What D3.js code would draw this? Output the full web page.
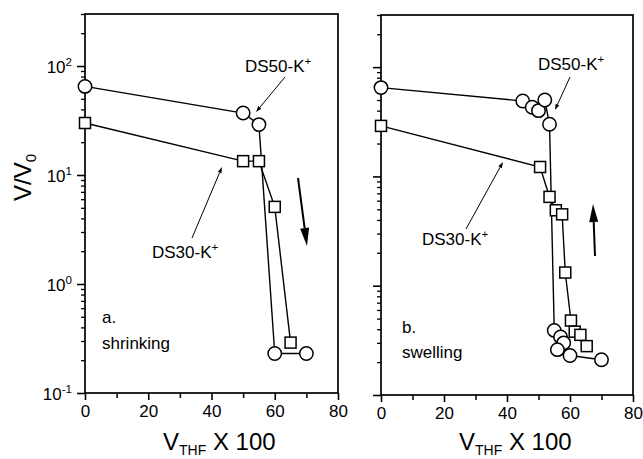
<!DOCTYPE html>
<html>
<head>
<meta charset="utf-8">
<script src="https://cdn.jsdelivr.net/npm/d3@7"></script>
<style>
  body { margin: 0; background: #fff; }
  text { font-family: "Liberation Sans", Arial, sans-serif; fill: #000; }
</style>
</head>
<body>
<svg id="chart" width="643" height="459"></svg>
<script>
// ---- data ----
const xTicks = [0, 20, 40, 60, 80];
const xMinorTicks = [10, 30, 50, 70];
const yDecades = [-1, 0, 1, 2];

// panel a: shrinking
const shrinkDS50X = [0, 50, 55, 60, 70];
const shrinkDS50Y = [65, 37, 29, 0.23, 0.23];
const shrinkDS30X = [0, 50, 55, 60, 65];
const shrinkDS30Y = [30, 13.4, 13.4, 5.1, 0.29];

// panel b: swelling
const swellDS50X = [0, 45, 48, 50, 52, 53.5, 55, 57, 58, 56, 60, 70];
const swellDS50Y = [65, 49, 43, 40, 50, 30, 0.39, 0.34, 0.30, 0.26, 0.23, 0.21];
const swellDS30X = [0, 50.5, 53.5, 55.5, 57.5, 58.5, 60.3, 61.5, 63.3, 65.3];
const swellDS30Y = [29, 12.2, 6.5, 4.9, 4.5, 1.32, 0.48, 0.38, 0.355, 0.28];

const X_DOMAIN = [0, 80];
const Y_DOMAIN = [0.1, 300];

const svg = d3.select("#chart");

function zip(xs, ys) { return xs.map((x, i) => ({ x, y: ys[i] })); }

// straight line with a filled head at (x2,y2)
function arrow(g, x1, y1, x2, y2, headLen, headW, sw) {
  const a = Math.atan2(y2 - y1, x2 - x1);
  const bx = x2 - headLen * Math.cos(a), by = y2 - headLen * Math.sin(a);
  g.append("line")
    .attr("x1", x1).attr("y1", y1).attr("x2", bx).attr("y2", by)
    .attr("stroke", "#000").attr("stroke-width", sw);
  const px = -Math.sin(a) * headW / 2, py = Math.cos(a) * headW / 2;
  g.append("path")
    .attr("d", `M${x2},${y2}L${bx + px},${by + py}L${bx - px},${by - py}Z`)
    .attr("fill", "#000");
}

function supText(g, x, y, base, sup, size, anchor) {
  const t = g.append("text").attr("x", x).attr("y", y)
    .attr("font-size", size).attr("text-anchor", anchor || "start");
  t.append("tspan").text(base);
  t.append("tspan").attr("dy", -size * 0.42).attr("font-size", size * 0.68).text(sup);
  return t;
}

function drawPanel(p) {
  const x = d3.scaleLinear().domain(X_DOMAIN).range([p.x0, p.x1]);
  const y = d3.scaleLog().domain(Y_DOMAIN).range([p.y1, p.y0]);
  const g = svg.append("g");

  // frame
  g.append("rect")
    .attr("x", p.x0).attr("y", p.y0)
    .attr("width", p.x1 - p.x0).attr("height", p.y1 - p.y0)
    .attr("fill", "none").attr("stroke", "#000").attr("stroke-width", 1.7);

  // x axis
  const xAxis = g.append("g").attr("transform", `translate(0,${p.y1})`)
    .call(d3.axisBottom(x).tickValues(xTicks).tickSize(7).tickPadding(5).tickFormat(d3.format("d")));
  xAxis.select(".domain").remove();
  xAxis.selectAll("line").attr("stroke-width", 1.6);
  xAxis.selectAll("text").attr("font-size", 17).attr("font-family", "Liberation Sans, Arial, sans-serif");
  const xMinor = g.append("g").attr("transform", `translate(0,${p.y1})`)
    .call(d3.axisBottom(x).tickValues(xMinorTicks).tickSize(5).tickFormat(""));
  xMinor.select(".domain").remove();
  xMinor.selectAll("line").attr("stroke-width", 1.5);

  // y axis (log): decade ticks + minor ticks
  const minor = [];
  yDecades.forEach(d => {
    for (let k = 2; k <= 9; k++) {
      const v = k * Math.pow(10, d);
      if (v <= Y_DOMAIN[1]) minor.push(v);
    }
  });
  const major = yDecades.map(d => Math.pow(10, d));
  const yMaj = g.append("g").attr("transform", `translate(${p.x0},0)`)
    .call(d3.axisLeft(y).tickValues(major).tickSize(8).tickFormat(""));
  yMaj.select(".domain").remove();
  yMaj.selectAll("line").attr("stroke-width", 1.6);
  const yMin = g.append("g").attr("transform", `translate(${p.x0},0)`)
    .call(d3.axisLeft(y).tickValues(minor).tickSize(4).tickFormat(""));
  yMin.select(".domain").remove();
  yMin.selectAll("line").attr("stroke-width", 1.3);

  if (p.yLabels) {
    yDecades.forEach(d => {
      supText(g, p.x0 - 13, y(Math.pow(10, d)) + 7, "10", String(d), 17, "end");
    });
    const yl = g.append("text")
      .attr("transform", `translate(${p.x0 - 54},${(p.y0 + p.y1) / 2 - 26}) rotate(-90)`)
      .attr("text-anchor", "middle").attr("font-size", 24);
    yl.append("tspan").text("V/V");
    yl.append("tspan").attr("dy", 5).attr("font-size", 15).text("0");
  }

  // x axis title
  const xt = g.append("text").attr("x", p.x0 + 78).attr("y", 450).attr("font-size", 24);
  xt.append("tspan").text("V");
  xt.append("tspan").attr("dy", 5).attr("font-size", 14).text("THF");
  xt.append("tspan").attr("dy", -5).text(" X 100");

  // series
  const line = d3.line().x(d => x(d.x)).y(d => y(d.y));
  const sq = zip(p.sqX, p.sqY);
  const ci = zip(p.ciX, p.ciY);
  [sq, ci].forEach(s => {
    g.append("path").datum(s).attr("d", line)
      .attr("fill", "none").attr("stroke", "#000").attr("stroke-width", 1.4);
  });
  const S = 11;
  g.append("g").selectAll("rect").data(sq).join("rect")
    .attr("x", d => x(d.x) - S / 2).attr("y", d => y(d.y) - S / 2)
    .attr("width", S).attr("height", S)
    .attr("fill", "#fff").attr("stroke", "#000").attr("stroke-width", 1.5);
  g.append("g").selectAll("circle").data(ci).join("circle")
    .attr("cx", d => x(d.x)).attr("cy", d => y(d.y)).attr("r", 6.7)
    .attr("fill", "#fff").attr("stroke", "#000").attr("stroke-width", 1.5);

  // annotations
  const a = p.ann;
  supText(g, a.ds50[0], a.ds50[1], "DS50-K", "+", 17);
  arrow(g, ...a.ds50Arrow, 6, 4, 1);
  supText(g, a.ds30[0], a.ds30[1], "DS30-K", "+", 17);
  arrow(g, ...a.ds30Arrow, 6, 4, 1);
  arrow(g, ...a.dir, 18, 9, 2);
  g.append("text").attr("x", a.tag[0]).attr("y", a.tag[1]).attr("font-size", 17).text(a.tagText[0]);
  g.append("text").attr("x", a.tag[0]).attr("y", a.tag[2]).attr("font-size", 17).text(a.tagText[1]);
}

drawPanel({
  x0: 85, x1: 338, y0: 14, y1: 393, yLabels: true,
  sqX: shrinkDS30X, sqY: shrinkDS30Y, ciX: shrinkDS50X, ciY: shrinkDS50Y,
  ann: {
    ds50: [245, 72], ds50Arrow: [285, 77, 256, 112],
    ds30: [152, 258], ds30Arrow: [192, 238, 222, 167],
    dir: [298, 178, 307, 246],
    tag: [102, 323, 349], tagText: ["a.", "shrinking"]
  }
});

drawPanel({
  x0: 381, x1: 633, y0: 15, y1: 395, yLabels: false,
  sqX: swellDS30X, sqY: swellDS30Y, ciX: swellDS50X, ciY: swellDS50Y,
  ann: {
    ds50: [538, 70], ds50Arrow: [570, 77, 555, 110],
    ds30: [422, 245], ds30Arrow: [466, 229, 503, 162],
    dir: [595, 256, 593, 204],
    tag: [402, 333, 358], tagText: ["b.", "swelling"]
  }
});
</script>
</body>
</html>
